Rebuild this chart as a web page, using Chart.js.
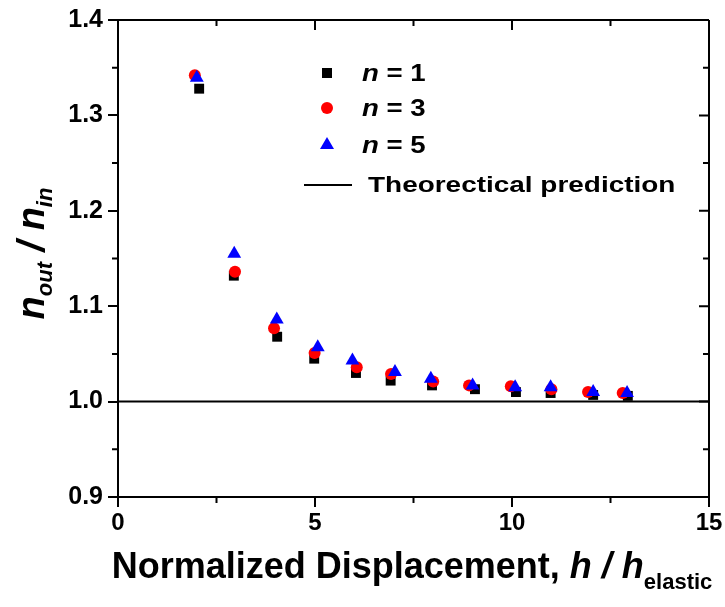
<!DOCTYPE html>
<html>
<head>
<meta charset="utf-8">
<script src="https://cdn.jsdelivr.net/npm/chart.js@4.4.1/dist/chart.umd.min.js"></script>
<style>
  html, body { margin: 0; padding: 0; background: #fff; }
  #wrap { width: 725px; height: 607px; }
</style>
</head>
<body>
<div id="wrap"><canvas id="grafico" width="725" height="607"></canvas></div>
<script>
// data
const xN1 = [2.06, 2.94, 4.04, 4.98, 6.04, 6.92, 7.97, 9.06, 10.1, 10.98, 12.06, 12.94];
const yN1 = [1.328, 1.132, 1.068, 1.045, 1.030, 1.022, 1.017, 1.013, 1.010, 1.009, 1.007, 1.006];
const xN3 = [1.95, 2.97, 3.96, 4.99, 6.06, 6.93, 8.0, 8.91, 9.97, 11.0, 11.93, 12.81];
const yN3 = [1.342, 1.136, 1.077, 1.051, 1.036, 1.029, 1.021, 1.017, 1.016, 1.013, 1.010, 1.009];
const xN5 = [2.0, 2.95, 4.03, 5.07, 5.95, 7.03, 7.94, 9.0, 10.08, 10.98, 12.06, 12.92];
const yN5 = [1.3395, 1.155, 1.086, 1.057, 1.043, 1.031, 1.024, 1.017, 1.015, 1.015, 1.010, 1.009];
const xTheory = [0, 15];
const yTheory = [1.0, 1.0];
const xMinor = [2.5, 7.5, 12.5];
const yMinor = [0.95, 1.05, 1.15, 1.25, 1.35];
const nLabels = ["1", "3", "5"];

const FONT = "'Liberation Sans', Arial, sans-serif";

const pts = (xs, ys) => xs.map((x, i) => ({ x: x, y: ys[i] }));

// text drawn a bit wider than the font, like the source figure
function wideText(ctx, txt, x, y, sx) {
  ctx.save();
  ctx.translate(x, y);
  ctx.scale(sx, 1);
  ctx.fillText(txt, 0, 0);
  ctx.restore();
  return ctx.measureText(txt).width * sx;
}

// frame, minor ticks, axis titles, legend
const extras = {
  id: "extras",
  afterDraw(c) {
    const ctx = c.ctx;
    const a = c.chartArea;
    const sx = c.scales.x;
    const sy = c.scales.y;
    ctx.save();
    ctx.strokeStyle = "#000";
    ctx.lineWidth = 2;
    ctx.beginPath();
    ctx.moveTo(a.left, a.top); ctx.lineTo(a.right, a.top);
    ctx.moveTo(a.right, a.top); ctx.lineTo(a.right, a.bottom);
    // mirrored major ticks (inward) on right / top
    sy.ticks.forEach(t => {
      const p = sy.getPixelForValue(t.value);
      ctx.moveTo(a.right, p); ctx.lineTo(a.right - 10, p);
    });
    sx.ticks.forEach(t => {
      const p = sx.getPixelForValue(t.value);
      ctx.moveTo(p, a.top); ctx.lineTo(p, a.top + 10);
    });
    // minor ticks
    yMinor.forEach(v => {
      const p = sy.getPixelForValue(v);
      ctx.moveTo(a.left, p); ctx.lineTo(a.left - 6, p);
      ctx.moveTo(a.right, p); ctx.lineTo(a.right - 6, p);
    });
    xMinor.forEach(v => {
      const p = sx.getPixelForValue(v);
      ctx.moveTo(p, a.bottom); ctx.lineTo(p, a.bottom + 6);
      ctx.moveTo(p, a.top); ctx.lineTo(p, a.top + 6);
    });
    ctx.stroke();

    ctx.fillStyle = "#000";
    ctx.textBaseline = "alphabetic";
    ctx.textAlign = "left";

    // x title
    const big = "bold 36px " + FONT;
    const bigI = "italic bold 36px " + FONT;
    const sub = "bold 22px " + FONT;
    const p1 = "Normalized Displacement, ";
    const p2 = "h / h";
    const p3 = "elastic";
    ctx.font = big; const w1 = ctx.measureText(p1).width;
    ctx.font = bigI; const w2 = ctx.measureText(p2).width;
    ctx.font = sub; const w3 = ctx.measureText(p3).width;
    let tx = 412 - (w1 + w2 + w3) / 2;
    const ty = 578;
    ctx.font = big; ctx.fillText(p1, tx, ty); tx += w1;
    ctx.font = bigI; ctx.fillText(p2, tx, ty); tx += w2;
    ctx.font = sub; ctx.fillText(p3, tx, ty + 11);

    // y title
    ctx.save();
    ctx.translate(44, (a.top + a.bottom) / 2 - 5);
    ctx.rotate(-Math.PI / 2);
    const yBig = "italic bold 38px " + FONT;
    const ySub = "italic bold 22px " + FONT;
    const parts = [
      [yBig, "n", 0], [ySub, "out", 8], [yBig, " / ", 0], [yBig, "n", 0], [ySub, "in", 8]
    ];
    let total = 0;
    parts.forEach(p => { ctx.font = p[0]; total += ctx.measureText(p[1]).width; });
    let px = -total / 2;
    parts.forEach(p => {
      ctx.font = p[0];
      ctx.fillText(p[1], px, p[2]);
      px += ctx.measureText(p[1]).width;
    });
    ctx.restore();

    // legend
    const lx = 327;
    const rows = [73, 108, 145];
    ctx.fillStyle = "#000";
    ctx.fillRect(lx - 5, rows[0] - 5, 10, 10);
    ctx.fillStyle = "#ff0000";
    ctx.beginPath(); ctx.arc(lx, rows[1], 6, 0, Math.PI * 2); ctx.fill();
    ctx.fillStyle = "#0000ff";
    ctx.beginPath();
    ctx.moveTo(lx, rows[2] - 8);
    ctx.lineTo(lx + 7, rows[2] + 4);
    ctx.lineTo(lx - 7, rows[2] + 4);
    ctx.closePath(); ctx.fill();

    ctx.fillStyle = "#000";
    nLabels.forEach((l, i) => {
      let x = 362;
      ctx.font = "italic bold 23px " + FONT;
      x += wideText(ctx, "n", x, rows[i] + 8, 1.2);
      ctx.font = "bold 23px " + FONT;
      wideText(ctx, " = " + l, x, rows[i] + 8, 1.2);
    });
    ctx.strokeStyle = "#000";
    ctx.lineWidth = 2;
    ctx.beginPath(); ctx.moveTo(304, 185); ctx.lineTo(352, 185); ctx.stroke();
    ctx.font = "bold 22px " + FONT;
    wideText(ctx, "Theorectical prediction", 368, 192, 1.27);
    ctx.restore();
  }
};

const chart = new Chart(document.getElementById("grafico"), {
  type: "scatter",
  data: {
    datasets: [
      { label: "n = 5", data: pts(xN5, yN5), pointStyle: "triangle", pointRadius: 8,
        backgroundColor: "#0000ff", borderColor: "#0000ff", borderWidth: 0, order: 0 },
      { label: "n = 3", data: pts(xN3, yN3), pointStyle: "circle", pointRadius: 6,
        backgroundColor: "#ff0000", borderColor: "#ff0000", borderWidth: 0, order: 1 },
      { label: "n = 1", data: pts(xN1, yN1), pointStyle: "rect", pointRadius: 7,
        backgroundColor: "#000000", borderColor: "#000000", borderWidth: 0, order: 2 },
      { label: "Theorectical prediction", data: pts(xTheory, yTheory), showLine: true,
        pointRadius: 0, borderColor: "#000", borderWidth: 2, order: 3 }
    ]
  },
  options: {
    responsive: false,
    animation: false,
    events: [],
    layout: { padding: { left: 0, top: 20, right: 16, bottom: 0 } },
    plugins: { legend: { display: false }, tooltip: { enabled: false } },
    scales: {
      x: {
        type: "linear", min: 0, max: 15,
        afterFit: s => { s.height = 110; },
        ticks: { stepSize: 5, color: "#000", padding: 2, font: { family: FONT, size: 24, weight: "bold" } },
        grid: { drawOnChartArea: false, drawTicks: true, tickLength: 10, color: "#000", lineWidth: 2 },
        border: { display: true, color: "#000", width: 2 }
      },
      y: {
        type: "linear", min: 0.9, max: 1.4,
        afterFit: s => { s.width = 118; },
        ticks: { stepSize: 0.1, color: "#000", padding: 5, font: { family: FONT, size: 25, weight: "bold" },
          callback: v => v.toFixed(1) },
        grid: { drawOnChartArea: false, drawTicks: true, tickLength: 10, color: "#000", lineWidth: 2 },
        border: { display: true, color: "#000", width: 2 }
      }
    }
  },
  plugins: [extras]
});
</script>
</body>
</html>
